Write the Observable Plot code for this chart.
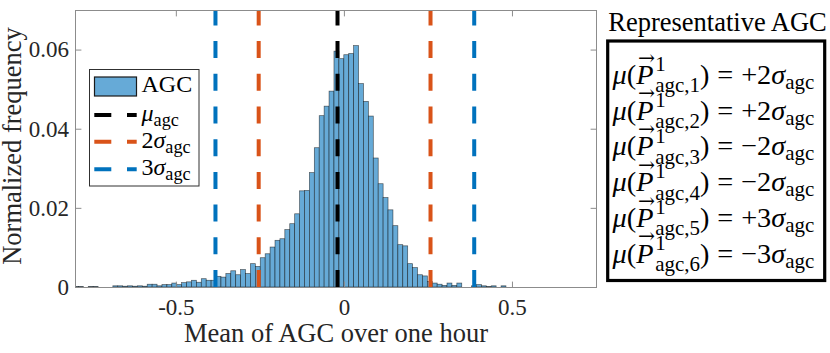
<!DOCTYPE html>
<html>
<head>
<meta charset="utf-8">
<script src="https://cdn.jsdelivr.net/npm/d3@7"></script>
<script src="https://cdn.jsdelivr.net/npm/@observablehq/plot@0.6"></script>
<style>
  html, body { margin: 0; padding: 0; background: #ffffff; }
  #chart svg { display: block; }
</style>
</head>
<body>
<div id="chart"></div>
<script>
// ---------------- data ----------------
const binStart = -0.8044;   // left edge of first histogram bin
const binWidth = 0.01462;   // histogram bin width
const frequencies = [
  0.0001, 0.0001, 0, 0.0001, 0.0001, 0, 0, 0, 0.0003, 0.0003,
  0.0002, 0.0003, 0.0002, 0.0003, 0.0002, 0.0007, 0.0007, 0.0003, 0.0006, 0.0006,
  0.0010, 0.0006, 0.0011, 0.0013, 0.0017, 0.0012, 0.0021, 0.0017, 0.0017, 0.0027,
  0.0025, 0.0034, 0.0041, 0.0031, 0.0044, 0.0034, 0.0059, 0.0052, 0.0074, 0.0084,
  0.0101, 0.0118, 0.0122, 0.0145, 0.0160, 0.0185, 0.0243, 0.0244, 0.0289, 0.0352,
  0.0433, 0.0457, 0.0495, 0.0596, 0.0577, 0.0587, 0.0590, 0.0610, 0.0514, 0.0469,
  0.0432, 0.0326, 0.0261, 0.0226, 0.0195, 0.0155, 0.0107, 0.0104, 0.0059, 0.0049,
  0.0031, 0.0028, 0.0014, 0.0010, 0.0007, 0.0004, 0.0010, 0.0004, 0.0010, 0,
  0, 0.0003, 0.0006, 0.0003, 0.0001, 0.0003, 0, 0.0003
];

const xMin = -0.8, xMax = 0.75;
const yMin = 0, yMax = 0.07;
const xTicks = [-0.5, 0, 0.5];
const xTickLabels = ["-0.5", "0", "0.5"];
const yTicks = [0, 0.02, 0.04, 0.06];
const yTickLabels = ["0", "0.02", "0.04", "0.06"];

const muValues = [-0.0205];
const twoSigmaValues = [-0.2550, 0.2562];
const threeSigmaValues = [-0.3836, 0.3862];

const xLabel = "Mean of AGC over one hour";
const yLabel = "Normalized frequency";

const legendNames = ["AGC", "μ", "2σ", "3σ"];
const boxTitle = "Representative AGC";
const rowIndices = ["1", "2", "3", "4", "5", "6"];
const rowSigns = ["+", "+", "\u2212", "\u2212", "+", "\u2212"];
const rowMultipliers = ["2", "2", "2", "2", "3", "3"];

// ---------------- styles ----------------
const serif = "'Liberation Serif', 'Times New Roman', serif";
const barFill = "#66AAD7";
const colMu = "#000000";
const col2s = "#D95319";
const col3s = "#0072BD";
const axisGrey = "#8c8c8c";
const textDark = "#262626";
const dash = "17,15.7";

// tables built from the arrays
const bins = frequencies
  .map((f, i) => ({x1: binStart + i * binWidth, x2: binStart + (i + 1) * binWidth, y1: yMin, y2: f}))
  .filter(d => d.y2 > 0);
const lineRows = (vals) => vals.map(v => ({x: v, y1: yMin, y2: yMax}));

const tickShape = {draw(ctx, l) { ctx.moveTo(0, 0); ctx.lineTo(0, -l); }};
const tickLen = 5.5;

const chart = Plot.plot({
  width: 830,
  height: 353,
  marginLeft: 75,
  marginRight: 234,
  marginTop: 10,
  marginBottom: 66,
  x: {domain: [xMin, xMax]},
  y: {domain: [yMin, yMax]},
  style: {fontFamily: serif, background: "#ffffff", color: textDark, overflow: "visible"},
  marks: [
    Plot.rect(bins, {x1: "x1", x2: "x2", y1: "y1", y2: "y2", fill: barFill,
      stroke: "#000000", strokeOpacity: 0.6, strokeWidth: 0.7, clip: true}),
    Plot.ruleX(lineRows(muValues), {x: "x", y1: "y1", y2: "y2", stroke: colMu, strokeWidth: 4, strokeDasharray: dash}),
    Plot.ruleX(lineRows(twoSigmaValues), {x: "x", y1: "y1", y2: "y2", stroke: col2s, strokeWidth: 4, strokeDasharray: dash}),
    Plot.ruleX(lineRows(threeSigmaValues), {x: "x", y1: "y1", y2: "y2", stroke: col3s, strokeWidth: 4, strokeDasharray: dash}),
    Plot.frame({stroke: axisGrey, strokeWidth: 1}),
    // inward ticks on all four sides
    Plot.vector(xTicks, {x: d => d, y: yMin, length: tickLen, rotate: 0, anchor: "start", shape: tickShape, stroke: axisGrey, strokeWidth: 1}),
    Plot.vector(xTicks, {x: d => d, y: yMax, length: tickLen, rotate: 180, anchor: "start", shape: tickShape, stroke: axisGrey, strokeWidth: 1}),
    Plot.vector(yTicks, {x: xMin, y: d => d, length: tickLen, rotate: 90, anchor: "start", shape: tickShape, stroke: axisGrey, strokeWidth: 1}),
    Plot.vector(yTicks, {x: xMax, y: d => d, length: tickLen, rotate: -90, anchor: "start", shape: tickShape, stroke: axisGrey, strokeWidth: 1}),
    Plot.axisX(xTicks, {tickFormat: d => xTickLabels[xTicks.indexOf(d)], tickSize: 0, tickPadding: 11, fontSize: 23, fontFamily: serif, label: null, fill: textDark}),
    Plot.axisY(yTicks, {tickFormat: d => yTickLabels[yTicks.indexOf(d)], tickSize: 0, tickPadding: 6.5, fontSize: 23, fontFamily: serif, label: null, fill: textDark}),
    Plot.text([xLabel], {text: d => d, frameAnchor: "bottom", dy: 54, lineAnchor: "bottom", fontSize: 26.5, fontFamily: serif, fill: textDark})
  ]
});

document.getElementById("chart").appendChild(chart);

const svg = d3.select(chart);

// y-axis title (rotated)
svg.append("text")
  .attr("transform", "translate(21,146) rotate(-90)")
  .attr("text-anchor", "middle")
  .attr("font-family", serif)
  .attr("font-size", 26.5)
  .attr("fill", textDark)
  .text(yLabel);

// ---------------- math text helper ----------------
function mathText(parent, x, y, size, parts, color) {
  const g = parent.append("g").attr("fill", color).attr("text-anchor", "start");
  let cx = x;
  const put = (p, px) => {
    const t = g.append("text")
      .attr("x", px)
      .attr("y", y - (p.sh || 0) * size)
      .attr("text-anchor", "start")
      .attr("font-size", size * (p.sc || 1))
      .attr("font-family", serif)
      .attr("font-style", p.it ? "italic" : "normal")
      .text(p.t);
    return t.node().getComputedTextLength();
  };
  for (const p of parts) {
    cx += (p.pre || 0) * size;
    if (p.stack) {
      let w = 0;
      for (const q of p.stack) w = Math.max(w, put(q, cx));
      cx += w;
    } else {
      const w = put(p, cx);
      if (p.arrow) {
        g.append("text")
          .attr("x", cx + w * 0.6)
          .attr("y", y - size * 0.68)
          .attr("text-anchor", "middle")
          .attr("font-size", size * 0.72)
          .attr("font-family", "'DejaVu Serif', serif")
          .text("\u2192");
      }
      cx += w;
    }
    cx += (p.post || 0) * size;
  }
  return {g, width: cx - x};
}

// ---------------- legend ----------------
const leg = svg.append("g").attr("text-anchor", "start");
leg.append("rect").attr("x", 89.5).attr("y", 69.5).attr("width", 109.5).attr("height", 116.5)
  .attr("fill", "#ffffff").attr("stroke", "#303030").attr("stroke-width", 1);
leg.append("rect").attr("x", 94.5).attr("y", 77).attr("width", 42).attr("height", 19)
  .attr("fill", barFill).attr("stroke", "#1a1a1a").attr("stroke-width", 1.2);
mathText(leg, 141.5, 91.7, 24, [{t: legendNames[0]}], "#000000");
const legLines = [
  {c: colMu, y: 115, parts: [{t: legendNames[1], it: true}, {t: "agc", sc: 0.76, sh: -0.2}]},
  {c: col2s, y: 141.7, parts: [{t: legendNames[2][0]}, {t: legendNames[2][1], it: true}, {t: "agc", sc: 0.76, sh: -0.2}]},
  {c: col3s, y: 169.3, parts: [{t: legendNames[3][0]}, {t: legendNames[3][1], it: true}, {t: "agc", sc: 0.76, sh: -0.2}]}
];
for (const l of legLines) {
  leg.append("line").attr("x1", 94.3).attr("x2", 136.7).attr("y1", l.y).attr("y2", l.y)
    .attr("stroke", l.c).attr("stroke-width", 4).attr("stroke-dasharray", dash);
  mathText(leg, 141.5, l.y + 6, 24, l.parts, "#000000");
}

// ---------------- annotation box ----------------
const box = svg.append("g").attr("text-anchor", "start");
box.append("text").attr("x", 717.5).attr("y", 30.5).attr("text-anchor", "middle")
  .attr("font-family", serif).attr("font-size", 26.5).attr("fill", "#000000").text(boxTitle);
box.append("rect").attr("x", 607.7).attr("y", 41).attr("width", 217).attr("height", 239.5)
  .attr("fill", "#ffffff").attr("stroke", "#000000").attr("stroke-width", 3.2);
rowIndices.forEach((idx, i) => {
  const parts = [
    {t: "μ", it: true},
    {t: "("},
    {t: "P", it: true, arrow: true, post: 0.06},
    {stack: [{t: "1", sc: 0.74, sh: 0.45}, {t: "agc," + idx, sc: 0.74, sh: -0.3}]},
    {t: ")", post: 0.28},
    {t: "=", post: 0.28},
    {t: rowSigns[i] + rowMultipliers[i]},
    {t: "σ", it: true},
    {t: "agc", sc: 0.74, sh: -0.18}
  ];
  mathText(box, 612.5, 84 + i * 35.7, 28.3, parts, "#000000");
});
</script>
</body>
</html>
